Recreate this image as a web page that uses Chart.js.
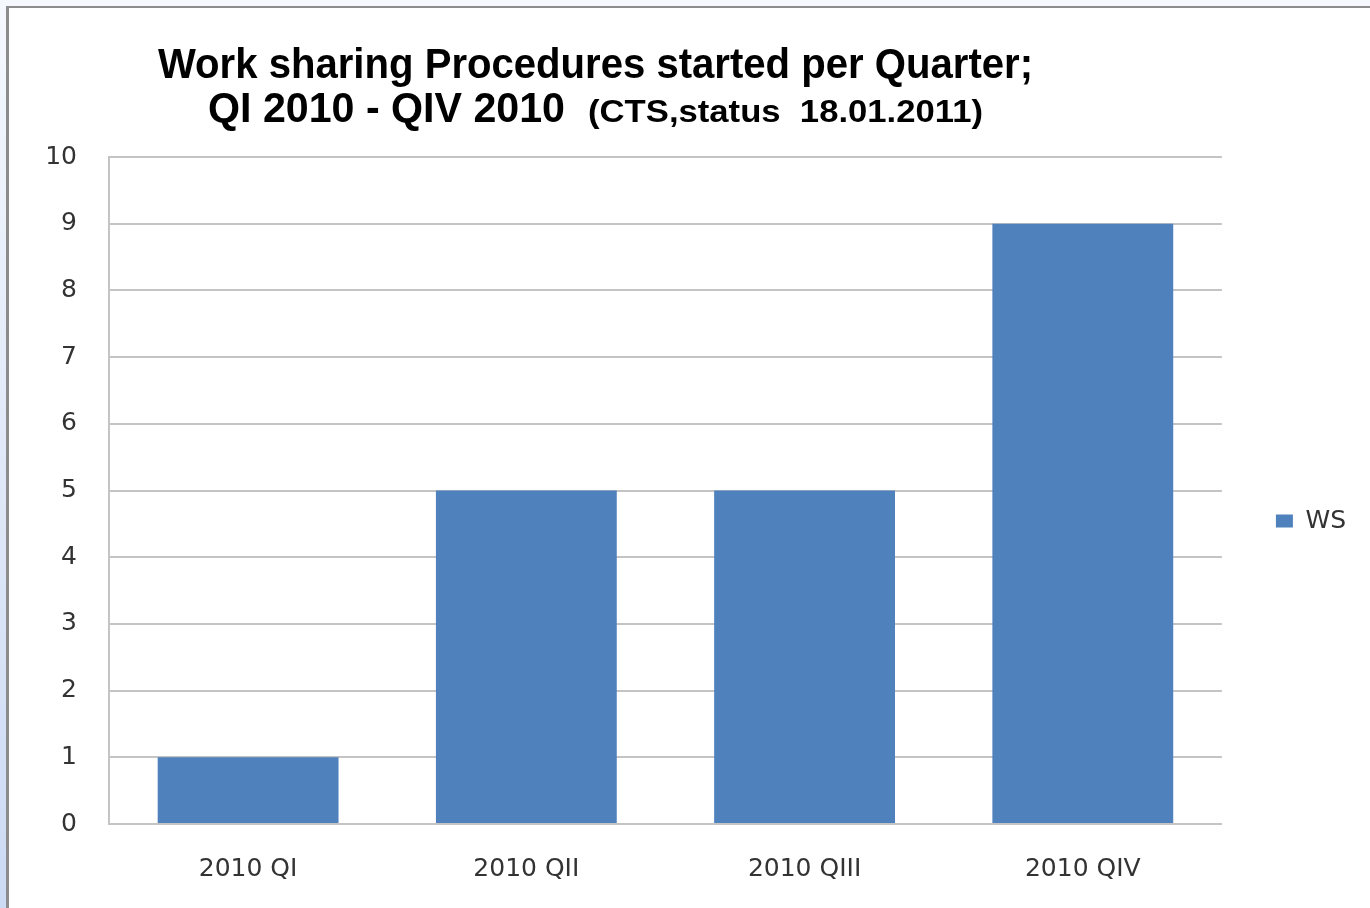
<!DOCTYPE html>
<html>
<head>
<meta charset="utf-8">
<title>Work sharing Procedures started per Quarter</title>
<script src="https://cdn.jsdelivr.net/npm/chart.js@4.4.0/dist/chart.umd.min.js"></script>
<style>
  html, body { margin: 0; padding: 0; }
  body { width: 1370px; height: 908px; overflow: hidden; background: linear-gradient(to bottom, #f5f8fd, #ccdaf4); }
  #frame { position: absolute; left: 6px; top: 6px; width: 1361px; height: 900px;
           border-top: 2px solid #8c8c8c; border-left: 3px solid #8c8c8c; background: #fff; }
  #frame canvas { display: block; }
</style>
</head>
<body>
<div id="frame"><canvas id="grafico" width="1361" height="900"></canvas></div>
<script>
// data
const quarters = ['2010 QI', '2010 QII', '2010 QIII', '2010 QIV'];
const wsCounts = [1, 5, 5, 9];
const seriesName = 'WS';
const yTicks = [0, 1, 2, 3, 4, 5, 6, 7, 8, 9, 10];

const titleLine1 = 'Work sharing Procedures started per Quarter;';
const titleLine2 = 'QI 2010 - QIV 2010';
const titleNote = '(CTS,status  18.01.2011)';

const gridColor = '#c4c4c4';
const tickFont = { family: '"DejaVu Sans", sans-serif', size: 25 };

// draws text squeezed to a given width (the original uses a narrow font)
function fitText(ctx, text, font, x, y, width) {
  ctx.font = font;
  const w = ctx.measureText(text).width;
  ctx.save();
  ctx.translate(x, y);
  ctx.scale(width / w, 1);
  ctx.fillText(text, 0, 0);
  ctx.restore();
}

const titlePlugin = {
  id: 'titreMixte',
  afterDraw(chart) {
    const ctx = chart.ctx;
    ctx.save();
    ctx.fillStyle = '#000';
    ctx.textAlign = 'left';
    ctx.textBaseline = 'alphabetic';
    const big = 'bold 42px "Liberation Sans Narrow", "Liberation Sans", sans-serif';
    const small = 'bold 31px "Liberation Sans Narrow", "Liberation Sans", sans-serif';
    fitText(ctx, titleLine1, big, 149, 70, 875);
    fitText(ctx, titleLine2, big, 199, 114, 357);
    fitText(ctx, titleNote, small, 579, 114, 395);
    ctx.restore();
  }
};

const graficoCtx = document.getElementById('grafico').getContext('2d');
const grafico = new Chart(graficoCtx, {
  type: 'bar',
  data: {
    labels: quarters,
    datasets: [{
      label: seriesName,
      data: wsCounts,
      backgroundColor: '#4f81bd',
      borderWidth: 0,
      categoryPercentage: 1,
      barPercentage: 0.65
    }]
  },
  options: {
    responsive: false,
    animation: false,
    layout: { padding: { top: 149, bottom: 23, left: 0, right: 14 } },
    plugins: {
      title: { display: false },
      tooltip: { enabled: false },
      legend: {
        position: 'right',
        labels: {
          boxWidth: 17,
          boxHeight: 13,
          padding: 10,
          color: '#333',
          font: tickFont
        }
      }
    },
    scales: {
      x: {
        grid: { display: false, drawTicks: false },
        border: { color: gridColor, width: 2 },
        ticks: { color: '#333', font: tickFont, padding: 30 },
        afterFit: s => { s.height = 61; }
      },
      y: {
        min: 0,
        max: 10,
        afterBuildTicks: s => { s.ticks = yTicks.map(v => ({ value: v })); },
        grid: { color: gridColor, lineWidth: 2, drawTicks: false },
        border: { color: gridColor, width: 2 },
        ticks: { color: '#333', font: tickFont, padding: 32 },
        afterFit: s => { s.width = 100; }
      },
      gap: {
        type: 'linear',
        position: 'right',
        grid: { display: false, drawTicks: false },
        border: { display: false },
        ticks: { display: false },
        afterFit: s => { s.width = 44; }
      }
    }
  },
  plugins: [titlePlugin]
});
</script>
</body>
</html>
